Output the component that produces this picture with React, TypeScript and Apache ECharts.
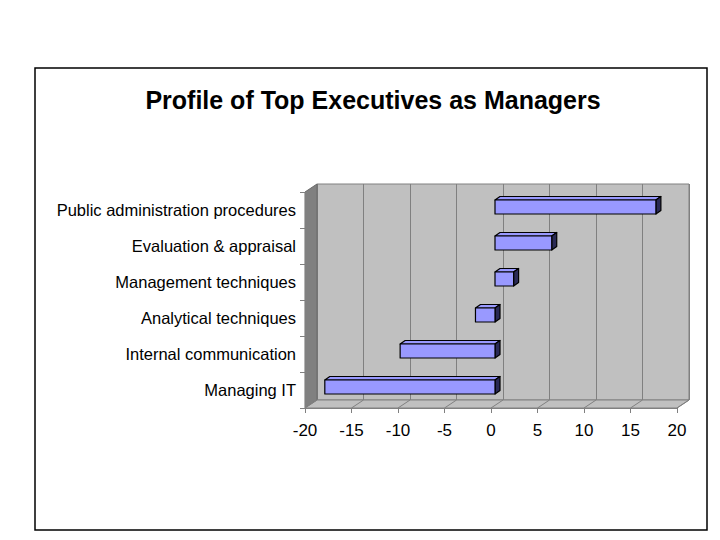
import React, { useEffect, useRef } from "react";
import * as echarts from "echarts";

const title = "Profile of Top Executives as Managers";
const categories = [
  "Managing IT",
  "Internal communication",
  "Analytical techniques",
  "Management techniques",
  "Evaluation & appraisal",
  "Public administration procedures",
];
const values = [-18.3, -10.2, -2.1, 2.0, 6.1, 17.3];
const xTicks = [-20, -15, -10, -5, 0, 5, 10, 15, 20];

const FONT = "'Liberation Sans', Arial, sans-serif";
const DX = 12; // wall depth offset
const DY = 8;
const BAR_OX = 4;
const BAR_OY = -3;
const BAR_DX = 5;
const BAR_DY = 3.5;
const BAR_H = 14;

export default function App() {
  const ref = useRef<HTMLDivElement>(null);
  useEffect(() => {
    document.body.style.margin = "0";
    const chart = echarts.init(ref.current!, undefined, { renderer: "svg" });
    const front = { left: 305, top: 192, width: 372, height: 216 };
    const option: any = {
      animation: false,
      backgroundColor: "#ffffff",
      graphic: [
        {
          type: "rect",
          shape: { x: 35, y: 68, width: 672, height: 462 },
          style: { fill: "none", stroke: "#000", lineWidth: 1.5 },
          z: 100,
        },
        {
          type: "text",
          x: 373,
          y: 100,
          style: {
            text: title,
            textAlign: "center",
            textVerticalAlign: "middle",
            fontFamily: FONT,
            fontWeight: "bold",
            fontSize: 25,
            fill: "#000",
          },
          z: 100,
        },
      ],
      grid: [
        { ...front, containLabel: false },
        {
          left: front.left + DX,
          top: front.top - DY,
          width: front.width,
          height: front.height,
          show: true,
          backgroundColor: "#c0c0c0",
          borderColor: "#808080",
          borderWidth: 1,
        },
      ],
      xAxis: [
        {
          type: "value",
          gridIndex: 0,
          min: -20,
          max: 20,
          interval: 5,
          axisLine: { show: true, onZero: false, lineStyle: { color: "#808080", width: 1 } },
          axisTick: { show: true, length: 5, lineStyle: { color: "#808080" } },
          axisLabel: {
            fontFamily: FONT,
            fontSize: 17,
            color: "#000",
            margin: 14,
            formatter: (v: number) => (xTicks.includes(v) ? String(v) : ""),
          },
          splitLine: { show: false },
          z: 5,
        },
        {
          type: "value",
          gridIndex: 1,
          min: -20,
          max: 20,
          interval: 5,
          axisLine: { show: false },
          axisTick: { show: false },
          axisLabel: { show: false },
          splitLine: { show: true, lineStyle: { color: "#808080", width: 1 } },
        },
      ],
      yAxis: [
        {
          type: "category",
          gridIndex: 0,
          data: categories,
          axisLine: { show: true, onZero: false, lineStyle: { color: "#808080", width: 1 } },
          axisTick: { show: true, length: 5, lineStyle: { color: "#808080" } },
          axisLabel: { fontFamily: FONT, fontSize: 16.5, color: "#000", margin: 9 },
          z: 5,
        },
        {
          type: "category",
          gridIndex: 1,
          data: categories,
          show: false,
        },
      ],
      series: [
        {
          type: "custom",
          name: "walls",
          xAxisIndex: 0,
          yAxisIndex: 0,
          data: [[0, 0]],
          z: 1,
          silent: true,
          renderItem: (params: any, api: any) => {
            const cs = params.coordSys;
            const x = cs.x, y = cs.y, w = cs.width, h = cs.height;
            const children: any[] = [];
            children.push({
              type: "polygon",
              shape: { points: [[x, y], [x + DX, y - DY], [x + DX, y + h - DY], [x, y + h]] },
              style: { fill: "#808080", stroke: "#6a6a6a", lineWidth: 1 },
            });
            children.push({
              type: "polygon",
              shape: { points: [[x, y + h], [x + DX, y + h - DY], [x + w + DX, y + h - DY], [x + w, y + h]] },
              style: { fill: "#c0c0c0", stroke: "#808080", lineWidth: 1 },
            });
            xTicks.forEach((t) => {
              const p = api.coord([t, 0]);
              children.push({
                type: "line",
                shape: { x1: p[0], y1: y + h, x2: p[0] + DX, y2: y + h - DY },
                style: { stroke: "#808080", lineWidth: 1 },
              });
            });
            return { type: "group", children };
          },
        },
        {
          type: "custom",
          name: "bars",
          xAxisIndex: 0,
          yAxisIndex: 0,
          z: 10,
          data: values.map((v, i) => [v, i]),
          encode: { x: 0, y: 1 },
          renderItem: (params: any, api: any) => {
            const v = api.value(0);
            const idx = api.value(1);
            const p0 = api.coord([0, idx]);
            const p1 = api.coord([v, idx]);
            const x0 = Math.min(p0[0], p1[0]) + BAR_OX;
            const x1 = Math.max(p0[0], p1[0]) + BAR_OX;
            const y0 = p0[1] + BAR_OY - BAR_H / 2;
            const y1 = y0 + BAR_H;
            const stroke = { stroke: "#000", lineWidth: 1.2, lineJoin: "round" };
            return {
              type: "group",
              children: [
                {
                  type: "polygon",
                  shape: { points: [[x0, y0], [x1, y0], [x1 + BAR_DX, y0 - BAR_DY], [x0 + BAR_DX, y0 - BAR_DY]] },
                  style: { fill: "#9999ff", ...stroke },
                },
                {
                  type: "polygon",
                  shape: { points: [[x1, y0], [x1 + BAR_DX, y0 - BAR_DY], [x1 + BAR_DX, y1 - BAR_DY], [x1, y1]] },
                  style: { fill: "#2a2a55", ...stroke },
                },
                {
                  type: "rect",
                  shape: { x: x0, y: y0, width: x1 - x0, height: BAR_H },
                  style: { fill: "#9999ff", ...stroke },
                },
              ],
            };
          },
        },
      ],
    };
    chart.setOption(option);
    return () => chart.dispose();
  }, []);
  return (
    <div
      ref={ref}
      style={{ position: "fixed", left: 0, top: 0, width: 720, height: 540 }}
    />
  );
}
